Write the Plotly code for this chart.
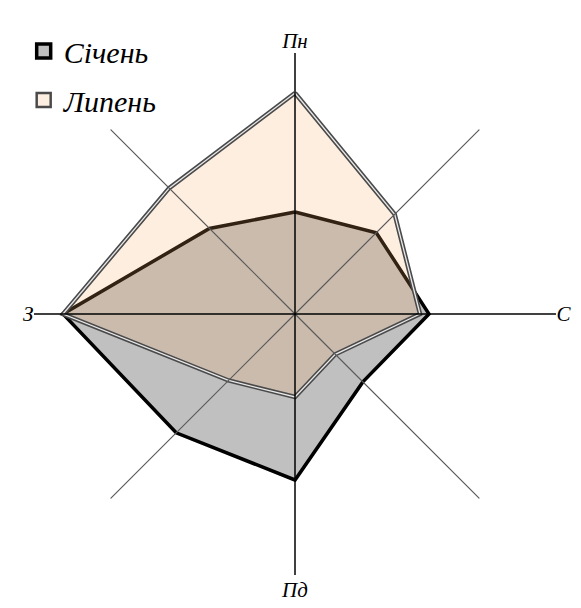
import plotly.graph_objects as go

# wind directions, clockwise from north
directions = ["Пн", "ПнС", "С", "ПдС", "Пд", "ПдЗ", "З", "ПнЗ"]
main_dirs = ["Пн", "С", "Пд", "З"]

# frequency of wind directions, %
jan = [10.2, 11.5, 13.4, 9.6, 16.6, 16.8, 23.2, 12.1]
jul = [22.1, 14.1, 12.5, 5.7, 8.3, 9.4, 23.2, 17.8]

r_max = 26.1
serif = "Liberation Serif, Times New Roman, serif"

fig = go.Figure()

# January - gray fill, thick black outline
fig.add_trace(go.Scatterpolar(
    r=jan + jan[:1], theta=directions + directions[:1],
    mode="lines", fill="toself",
    fillcolor="rgb(192,192,192)",
    line=dict(color="black", width=3.5),
    showlegend=False, hoverinfo="skip"
))

# July - translucent peach fill, double-line outline
fig.add_trace(go.Scatterpolar(
    r=jul + jul[:1], theta=directions + directions[:1],
    mode="lines", fill="toself",
    fillcolor="rgba(245,170,100,0.2)",
    line=dict(color="#4a4a4a", width=4.5),
    showlegend=False, hoverinfo="skip"
))
fig.add_trace(go.Scatterpolar(
    r=jul + jul[:1], theta=directions + directions[:1],
    mode="lines",
    line=dict(color="#e8e8e8", width=1.3),
    showlegend=False, hoverinfo="skip"
))

# spokes: diagonals gray, main axes black
for a, b in [("ПнС", "ПдЗ"), ("ПдС", "ПнЗ")]:
    fig.add_trace(go.Scatterpolar(
        r=[r_max, 0, r_max], theta=[a, a, b], mode="lines",
        line=dict(color="#5a5a5a", width=1.2),
        showlegend=False, hoverinfo="skip"
    ))
for a, b in [("Пн", "Пд"), ("С", "З")]:
    fig.add_trace(go.Scatterpolar(
        r=[r_max, 0, r_max], theta=[a, a, b], mode="lines",
        line=dict(color="black", width=1.5),
        showlegend=False, hoverinfo="skip"
    ))

# legend entries
fig.add_trace(go.Scatterpolar(
    r=[None], theta=[directions[0]], mode="markers", name="Січень",
    marker=dict(symbol="square", size=14, color="rgb(192,192,192)",
                line=dict(color="black", width=3.5)),
    legend="legend"
))
fig.add_trace(go.Scatterpolar(
    r=[None], theta=[directions[0]], mode="markers", name="Липень",
    marker=dict(symbol="square", size=14, color="#fdeee2",
                line=dict(color="#4a4a4a", width=2.5)),
    legend="legend2"
))

legend_style = dict(
    xref="container", yref="container", xanchor="left", yanchor="middle",
    bgcolor="rgba(0,0,0,0)", itemsizing="trace",
    font=dict(family=serif, size=30, color="black", style="italic"),
)

fig.update_layout(
    width=581, height=608,
    paper_bgcolor="white",
    margin=dict(l=26, r=33, t=45, b=41, autoexpand=False),
    polar=dict(
        bgcolor="white",
        domain=dict(x=[0, 1], y=[0, 1]),
        radialaxis=dict(range=[0, r_max], visible=False, showgrid=False),
        angularaxis=dict(
            type="category", categoryarray=directions,
            rotation=90, direction="clockwise",
            showline=False, showgrid=False, ticks="",
            tickmode="array", tickvals=main_dirs, ticktext=main_dirs,
            tickfont=dict(family=serif, size=21, color="black", style="italic"),
        ),
    ),
    legend=dict(x=0.027, y=1 - 43 / 608, **legend_style),
    legend2=dict(x=0.027, y=1 - 92 / 608, **legend_style),
    showlegend=True,
)

fig.write_html("out.html")
